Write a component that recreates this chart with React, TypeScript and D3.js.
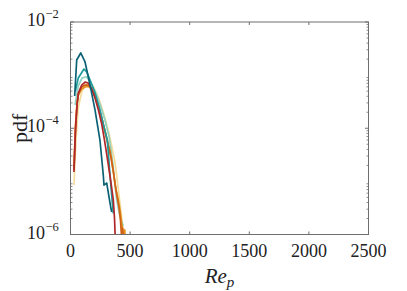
import React from "react";
import * as d3 from "d3";

const W = 407, H = 291;
const M = { left: 70.5, right: 368.5, top: 22, bottom: 234.5 };

const xTicks = [0, 500, 1000, 1500, 2000, 2500];
const yTicks = [1e-6, 1e-4, 1e-2];
const yTickExp = ["-6", "-4", "-2"];

const seriesNames = ["s1", "s2", "s3", "s4", "s5", "s6", "s7"];
const colors = ["#f3dc9c", "#93d2c3", "#e3901c", "#cf6119", "#1b9b9c", "#b0272b", "#0c6275"];

const reYellow = [29, 46, 65, 94, 122, 155, 189, 222, 256, 289, 323, 348, 373, 390, 407, 424, 436, 449];
const pdfYellow = [8.5e-6, 6.0e-5, 2.4e-4, 4.8e-4, 6.5e-4, 7.1e-4, 6.2e-4, 4.4e-4, 2.74e-4, 1.56e-4, 8.1e-5, 4.4e-5, 2.3e-5, 1.16e-5, 5.5e-6, 2.65e-6, 1.5e-6, 1.02e-6];

const reMint = [38, 65, 96, 133, 164, 206, 247, 289, 323, 340, 357, 373, 388, 407, 424, 443];
const pdfMint = [2.74e-4, 6.2e-4, 8.8e-4, 9.3e-4, 7.7e-4, 5.0e-4, 2.86e-4, 1.43e-4, 7.1e-5, 3.9e-5, 2.0e-5, 8.5e-6, 4.5e-6, 2.65e-6, 1.87e-6, 1.45e-6];

const reOrange = [29, 42, 55, 66, 94, 122, 153, 180, 206, 234, 262, 290, 318, 331, 348, 365, 382, 401, 415, 428, 438, 446, 455, 460];
const pdfOrange = [1.87e-5, 1.15e-4, 3.0e-4, 4.2e-4, 5.5e-4, 5.97e-4, 6.1e-4, 5.25e-4, 3.9e-4, 2.5e-4, 1.56e-4, 8.9e-5, 4.8e-5, 3.9e-5, 2.3e-5, 1.26e-5, 6.9e-6, 4.5e-6, 2.9e-6, 1.72e-6, 1.22e-6, 8e-7, 1.22e-6, 8e-7];

const reDarkOrange = [29, 42, 55, 66, 94, 122, 150, 178, 206, 234, 262, 290, 318, 340, 357, 373, 390, 407, 419, 430, 436, 445];
const pdfDarkOrange = [1.64e-5, 1.01e-4, 2.86e-4, 4.4e-4, 5.97e-4, 6.5e-4, 6.5e-4, 5.5e-4, 4.05e-4, 2.62e-4, 1.56e-4, 8.5e-5, 4.6e-5, 2.75e-5, 1.64e-5, 9.3e-6, 5.3e-6, 3.2e-6, 1.87e-6, 8e-7, 1.32e-6, 8e-7];

const reTeal = [40, 65, 113, 136, 164, 206, 247, 281, 309, 326, 337, 346, 359];
const pdfTeal = [4.9e-4, 8.8e-4, 1.3e-3, 1.15e-3, 8.1e-4, 4.6e-4, 2.2e-4, 1.05e-4, 6.0e-5, 1.9e-5, 9.3e-6, 5.3e-6, 2.5e-6];

const reRed = [29, 42, 55, 66, 94, 122, 150, 178, 206, 234, 262, 285, 298, 318, 340, 359, 369, 376];
const pdfRed = [1.5e-5, 9.3e-5, 2.74e-4, 4.6e-4, 6.5e-4, 7.4e-4, 7.1e-4, 5.5e-4, 3.7e-4, 2.2e-4, 1.2e-4, 6.0e-5, 3.9e-5, 2.0e-5, 9.3e-6, 4.5e-6, 2.05e-6, 8e-7];

const reDarkTeal = [35, 52, 86, 122, 164, 206, 247, 275, 281, 304, 309, 337, 346];
const pdfDarkTeal = [4.05e-4, 1.93e-3, 2.61e-3, 1.77e-3, 6.5e-4, 2.2e-4, 6.0e-5, 1.32e-5, 8.5e-6, 9.3e-6, 7.9e-6, 3.3e-6, 2.65e-6];

const seriesRe = [reYellow, reMint, reOrange, reDarkOrange, reTeal, reRed, reDarkTeal];
const seriesPdf = [pdfYellow, pdfMint, pdfOrange, pdfDarkOrange, pdfTeal, pdfRed, pdfDarkTeal];

export default function App() {
  const x = d3.scaleLinear().domain([0, 2500]).range([M.left, M.right]);
  const y = d3.scaleLog().domain([1e-6, 1e-2]).range([M.bottom, M.top]);
  const line = d3
    .line<[number, number]>()
    .x((d) => x(d[0]))
    .y((d) => y(d[1]));

  const minor: number[] = [];
  for (let e = -6; e < -2; e++) {
    for (let k = 2; k <= 9; k++) minor.push(k * Math.pow(10, e));
  }
  const axisColor = "#6e6e6e";
  const font = "'Liberation Serif', 'Times New Roman', serif";

  return (
    <svg width={W} height={H} style={{ position: "absolute", left: 0, top: 0 }}>
      <rect x={0} y={0} width={W} height={H} fill="#fff" />
      <defs>
        <clipPath id="plotclip">
          <rect x={M.left} y={M.top} width={M.right - M.left} height={M.bottom - M.top} />
        </clipPath>
      </defs>
      <g clipPath="url(#plotclip)">
        {seriesNames.map((n, i) => {
          const pts = seriesRe[i].map((r, j) => [r, seriesPdf[i][j]] as [number, number]);
          return (
            <path key={n} d={line(pts) || ""} fill="none" stroke={colors[i]} strokeWidth={1.7} strokeLinejoin="round" />
          );
        })}
      </g>
      <rect x={M.left} y={M.top} width={M.right - M.left} height={M.bottom - M.top} fill="none" stroke={axisColor} strokeWidth={1} />
      {xTicks.map((t) => (
        <g key={"xt" + t}>
          <line x1={x(t)} x2={x(t)} y1={M.bottom} y2={M.bottom - 3} stroke={axisColor} />
          <line x1={x(t)} x2={x(t)} y1={M.top} y2={M.top + 3} stroke={axisColor} />
          <text x={x(t)} y={257} fontSize={18} fontFamily={font} textAnchor="middle" fill="#222">
            {t}
          </text>
        </g>
      ))}
      {yTicks.map((t, i) => (
        <g key={"yt" + t}>
          <line x1={M.left} x2={M.left + 3.5} y1={y(t)} y2={y(t)} stroke={axisColor} />
          <line x1={M.right} x2={M.right - 3.5} y1={y(t)} y2={y(t)} stroke={axisColor} />
          <text x={45} y={y(t) + 4} fontSize={18} fontFamily={font} textAnchor="end" fill="#222">
            10
          </text>
          <text x={45.5} y={y(t) - 4} fontSize={12.5} fontFamily={font} textAnchor="start" fill="#222">
            {"\u2212" + yTickExp[i].replace("-", "")}
          </text>
        </g>
      ))}
      {minor.map((t, i) => (
        <g key={"ym" + i}>
          <line x1={M.left} x2={M.left + 2} y1={y(t)} y2={y(t)} stroke={axisColor} strokeWidth={0.8} />
          <line x1={M.right} x2={M.right - 2} y1={y(t)} y2={y(t)} stroke={axisColor} strokeWidth={0.8} />
        </g>
      ))}
      <text x={(M.left + M.right) / 2} y={283} fontSize={21} fontFamily={font} fontStyle="italic" textAnchor="middle" fill="#222">
        Re
        <tspan fontSize={15} dy={4}>p</tspan>
      </text>
      <text
        transform={`translate(27, ${(M.top + M.bottom) / 2}) rotate(-90)`}
        fontSize={22}
        fontFamily={font}
        textAnchor="middle"
        fill="#222"
      >
        pdf
      </text>
    </svg>
  );
}
